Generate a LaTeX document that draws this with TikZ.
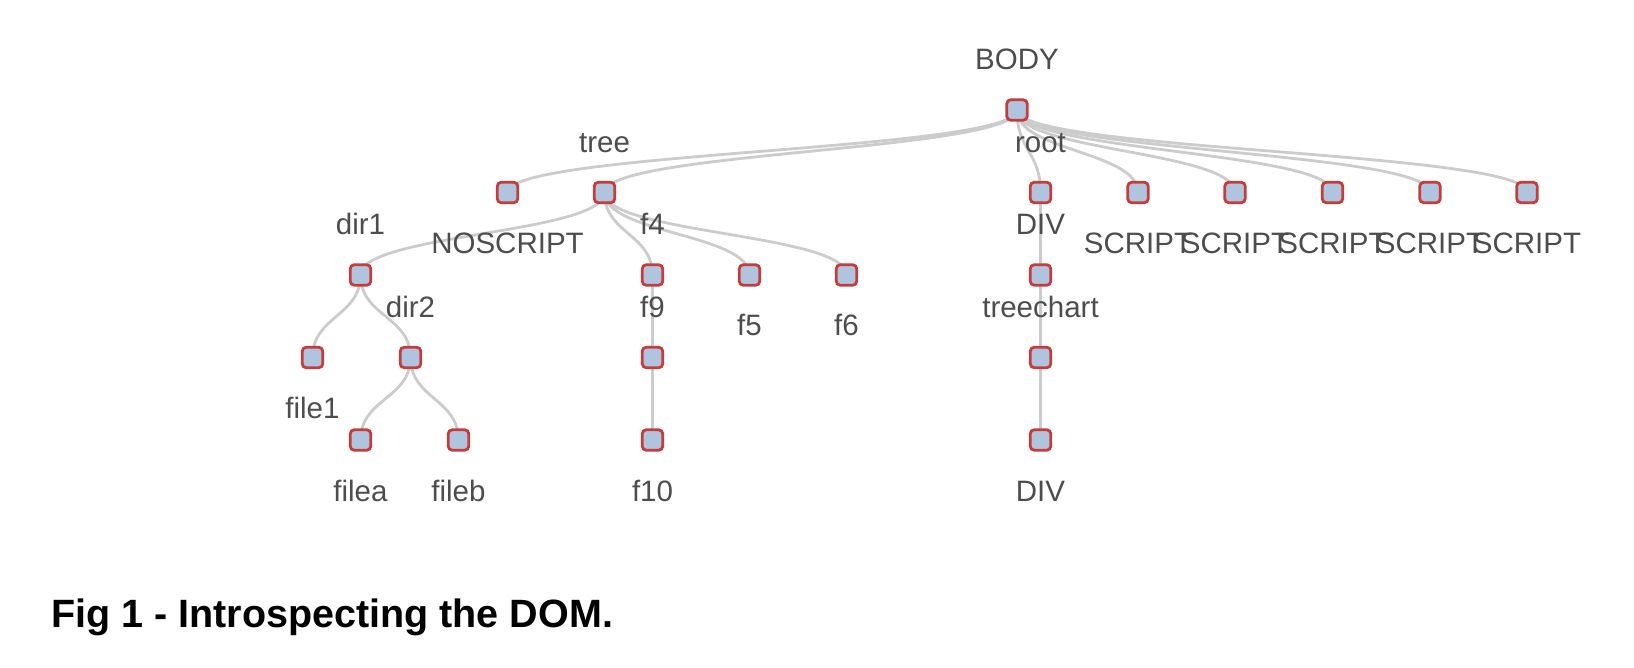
\documentclass[tikz,border=0pt]{standalone}
\usepackage{fontspec}
\setmainfont{Liberation Sans}
\usetikzlibrary{calc,backgrounds}
\definecolor{linkc}{HTML}{CCCCCC}
\definecolor{nodefill}{HTML}{B0C4DE}
\definecolor{nodeedge}{HTML}{C43C3C}
\definecolor{txt}{HTML}{4D4D4D}
\tikzset{
  dnode/.style={rectangle, rounded corners=4pt, minimum size=20.5pt, inner sep=0pt,
    draw=nodeedge, fill=nodefill, line width=2.8pt},
  lab/.style={anchor=base, text=txt, font=\fontsize{29.5}{34}\selectfont, inner sep=0pt},
  above lab/.style={lab, yshift=40pt},
  below lab/.style={lab, yshift=-61pt},
  link/.style={draw=linkc, line width=2.8pt},
}
\newcommand\dlink[2]{%
  \path ($(#1)!.5!(#2)$) coordinate (mid);
  \draw[link] (#1.center) .. controls (#1.center |- mid) and (#2.center |- mid) .. (#2.center);}
\begin{document}
\begin{tikzpicture}[x=1pt,y=-1pt]
\useasboundingbox (0,0) rectangle (1634,668);
% nodes
\node[dnode] (body) at (1017,110) {};
\node[dnode] (nos) at (507.5,192.5) {};
\node[dnode] (tree) at (604.5,192.5) {};
\node[dnode] (root) at (1040.5,192.5) {};
\node[dnode] (s1) at (1138,192.5) {};
\node[dnode] (s2) at (1235,192.5) {};
\node[dnode] (s3) at (1332.5,192.5) {};
\node[dnode] (s4) at (1430,192.5) {};
\node[dnode] (s5) at (1527,192.5) {};
\node[dnode] (dir1) at (360.5,275) {};
\node[dnode] (f4) at (652.5,275) {};
\node[dnode] (f5) at (749.5,275) {};
\node[dnode] (f6) at (846.5,275) {};
\node[dnode] (div1) at (1040.5,275) {};
\node[dnode] (file1) at (312.5,357.5) {};
\node[dnode] (dir2) at (410.5,357.5) {};
\node[dnode] (f9) at (652.5,357.5) {};
\node[dnode] (tc) at (1040.5,357.5) {};
\node[dnode] (filea) at (360.5,440) {};
\node[dnode] (fileb) at (458.5,440) {};
\node[dnode] (f10) at (652.5,440) {};
\node[dnode] (div2) at (1040.5,440) {};
% links
\begin{scope}[on background layer]
\fill[white] (0,0) rectangle (1634,668);
\dlink{body}{nos}
\dlink{body}{tree}
\dlink{body}{root}
\dlink{body}{s1}
\dlink{body}{s2}
\dlink{body}{s3}
\dlink{body}{s4}
\dlink{body}{s5}
\dlink{tree}{dir1}
\dlink{tree}{f4}
\dlink{tree}{f5}
\dlink{tree}{f6}
\dlink{root}{div1}
\dlink{dir1}{file1}
\dlink{dir1}{dir2}
\dlink{f4}{f9}
\dlink{div1}{tc}
\dlink{dir2}{filea}
\dlink{dir2}{fileb}
\dlink{f9}{f10}
\dlink{tc}{div2}
\end{scope}
% labels
\node[above lab] (lbody) at (body.center) {BODY};
\node[below lab] (lnos) at (nos.center) {NOSCRIPT};
\node[above lab] (ltree) at (tree.center) {tree};
\node[above lab] (lroot) at (root.center) {root};
\node[below lab] (ls1) at (s1.center) {SCRIPT};
\node[below lab] (ls2) at (s2.center) {SCRIPT};
\node[below lab] (ls3) at (s3.center) {SCRIPT};
\node[below lab] (ls4) at (s4.center) {SCRIPT};
\node[below lab] (ls5) at (s5.center) {SCRIPT};
\node[above lab] (ldir1) at (dir1.center) {dir1};
\node[above lab] (lf4) at (f4.center) {f4};
\node[below lab] (lf5) at (f5.center) {f5};
\node[below lab] (lf6) at (f6.center) {f6};
\node[above lab] (ldiv1) at (div1.center) {DIV};
\node[below lab] (lfile1) at (file1.center) {file1};
\node[above lab] (ldir2) at (dir2.center) {dir2};
\node[above lab] (lf9) at (f9.center) {f9};
\node[above lab] (ltc) at (tc.center) {treechart};
\node[below lab] (lfilea) at (filea.center) {filea};
\node[below lab] (lfileb) at (fileb.center) {fileb};
\node[below lab] (lf10) at (f10.center) {f10};
\node[below lab] (ldiv2) at (div2.center) {DIV};
% caption
\node[anchor=base west, inner sep=0pt, font=\bfseries\fontsize{39.5}{45}\selectfont] (cap) at (51,627.5) {Fig 1 - Introspecting the DOM.};
\end{tikzpicture}
\end{document}
